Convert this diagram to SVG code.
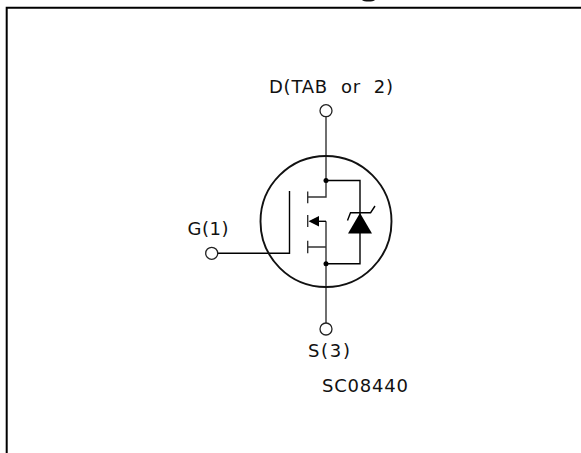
<svg xmlns="http://www.w3.org/2000/svg" width="581" height="453" viewBox="0 0 581 453">
<style>
.w{fill:none;stroke:#000;stroke-width:1.4}
.g{fill:none;stroke:#333;stroke-width:1.4}
.t{fill:#fff;stroke:#222;stroke-width:1.3}
.d{fill:#000}
text{font-family:"DejaVu Sans",Verdana,sans-serif;font-size:18px;fill:#111}
</style>
<rect width="581" height="453" fill="#fff"/>
<path id="fragment" d="M362 0H375C373 2 364 2 362 0Z" fill="#111"/>
<path id="frame" d="M6.7 453V7.8H581" fill="none" stroke="#000" stroke-width="2"/>
<g id="connectors">
<path class="g" d="M326 117V197H307.7M326 221.3V323M307.7 247H326"/>
<path class="w" d="M326 180.5H360V263.7H326"/>
<path class="w" d="M218 253.3H289.5V191"/>
<path class="g" d="M307.7 191.5V203.3M307.7 215V227M307.7 240.7V253.3"/>
<path class="w" d="M318 221.3H326"/>
<path class="w" d="M347.5 220.5L350.5 212.7H370.6L375 206"/>
</g>
<g id="body"><circle cx="326" cy="221.5" r="65.5" fill="none" stroke="#111" stroke-width="1.9"/></g>
<g id="junctions"><circle class="d" cx="326" cy="180.5" r="2.5"/><circle class="d" cx="326" cy="263.7" r="2.5"/></g>
<g id="arrow"><path class="d" d="M308.5 221.3L319 216V226.5Z"/></g>
<g id="diode"><path class="d" d="M360 213L372 233.5H348Z"/></g>
<g id="drain"><circle class="t" cx="326" cy="110.7" r="6"/><text x="269" y="93" textLength="124" lengthAdjust="spacing" xml:space="preserve">D(TAB  or  2)</text></g>
<g id="gate"><circle class="t" cx="211.7" cy="253.3" r="6"/><text x="187.5" y="235" textLength="41" lengthAdjust="spacing">G(1)</text></g>
<g id="source"><circle class="t" cx="326" cy="329" r="6"/><text x="308" y="357" textLength="42" lengthAdjust="spacing">S(3)</text></g>
<g id="code"><text x="322" y="392" textLength="86" lengthAdjust="spacing">SC08440</text></g>
</svg>
